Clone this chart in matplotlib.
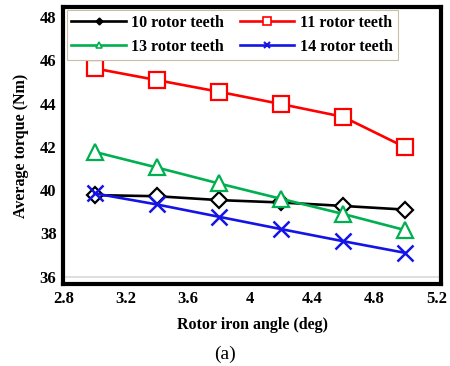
import matplotlib.pyplot as plt
from matplotlib.lines import Line2D

# rotor iron angle (deg)
angle = [3.0, 3.4, 3.8, 4.2, 4.6, 5.0]

# average torque (Nm)
teeth10 = [39.77, 39.72, 39.54, 39.43, 39.27, 39.10]
teeth11 = [45.63, 45.09, 44.55, 43.98, 43.39, 41.98]
teeth13 = [41.77, 41.05, 40.31, 39.60, 38.90, 38.15]
teeth14 = [39.85, 39.34, 38.77, 38.20, 37.64, 37.10]

labels = ['10 rotor teeth', '11 rotor teeth', '13 rotor teeth', '14 rotor teeth']
xticks = [2.8, 3.2, 3.6, 4.0, 4.4, 4.8, 5.2]
xticklabels = ['2.8', '3.2', '3.6', '4', '4.4', '4.8', '5.2']
yticks = [36, 38, 40, 42, 44, 46, 48]

plt.rcParams['font.family'] = ['Liberation Serif', 'DejaVu Serif']

fig = plt.figure(figsize=(4.5, 3.66), dpi=100)
ax = fig.add_axes([0.141, 0.224, 0.839, 0.757])

green = '#00B050'
blue = '#1414E6'
red = '#FF0000'

ax.plot(angle, teeth10, color='black', lw=1.9, marker='D', ms=8.5,
        mfc='white', mec='black', mew=1.6, zorder=3)
ax.plot(angle, teeth11, color=red, lw=1.9, marker='s', ms=11,
        mfc='white', mec=red, mew=1.6, zorder=3)
ax.plot(angle, teeth13, color=green, lw=1.9, marker='^', ms=11,
        mfc='white', mec=green, mew=1.6, zorder=3)
ax.plot(angle, teeth14, color=blue, lw=1.9, marker='x', ms=11,
        mec=blue, mew=1.8, zorder=3)

ax.axhline(36, color='#d9d9d9', lw=1.2, zorder=1)

ax.set_xlim(2.8, 5.23)
ax.set_ylim(35.66, 48.47)
ax.set_xticks(xticks)
ax.set_xticklabels(xticklabels)
ax.set_yticks(yticks)
ax.tick_params(length=0, labelsize=12, pad=5)
for t in ax.get_xticklabels() + ax.get_yticklabels():
    t.set_fontweight('bold')

for s in ax.spines.values():
    s.set_linewidth(3)
    s.set_color('black')

ax.set_xlabel('Rotor iron angle (deg)', fontsize=11.5, fontweight='bold', labelpad=7)
ax.set_ylabel('Average torque (Nm)', fontsize=11.5, fontweight='bold', labelpad=8)

h10 = Line2D([], [], color='black', lw=1.9, marker='D', ms=3.5, mfc='black', mec='black')
h11 = Line2D([], [], color=red, lw=1.9, marker='s', ms=6, mfc='white', mec=red, mew=1.2)
h13 = Line2D([], [], color=green, lw=1.9, marker='^', ms=4.5, mfc='white', mec=green, mew=1.2)
h14 = Line2D([], [], color=blue, lw=1.9, marker='x', ms=4, mec=blue, mew=1.5)
# column-wise fill, so order gives rows: 10 | 11 and 13 | 14
leg = ax.legend([h10, h13, h11, h14], [labels[0], labels[2], labels[1], labels[3]],
                ncol=2, loc='upper left', bbox_to_anchor=(0.0, 1.0),
                prop={'weight': 'bold', 'size': 11.5}, handlelength=3.4,
                columnspacing=1.0, handletextpad=0.35, borderpad=0.3,
                borderaxespad=0.2, labelspacing=0.5, fancybox=False,
                framealpha=1)
leg.get_frame().set_edgecolor('#c8bfa8')
leg.get_frame().set_linewidth(0.8)

fig.text(0.5, 0.02, '(a)', ha='center', fontsize=14)

fig.savefig('out.png', dpi=100)
